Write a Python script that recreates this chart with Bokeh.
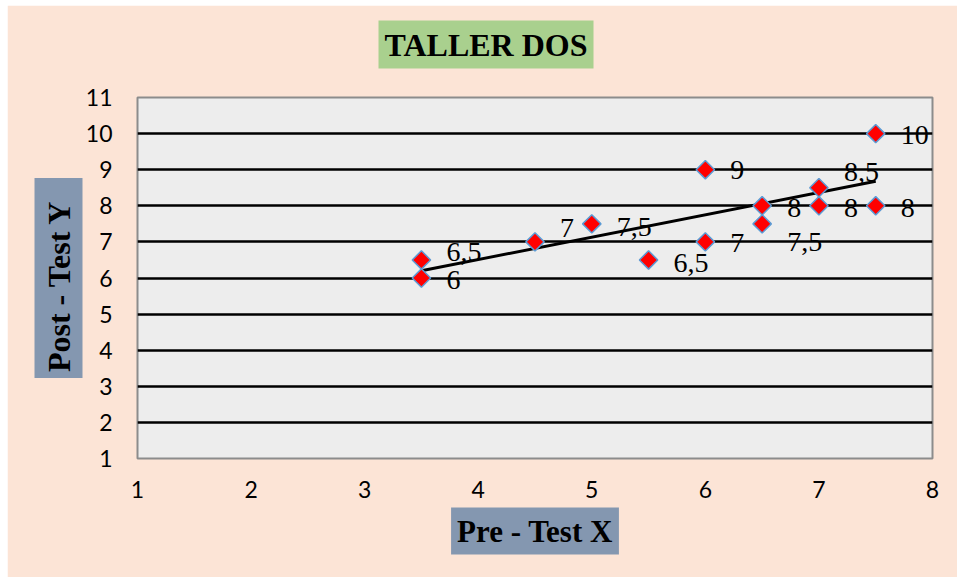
import numpy as np
from bokeh.plotting import figure
from bokeh.models import Title, FixedTicker, Range1d, ColumnDataSource
from bokeh.core.properties import value
from bokeh.embed import file_html
from bokeh.resources import INLINE

# ---- data ----
pre_test = [3.5, 3.5, 4.5, 5.0, 5.5, 6.0, 6.0, 6.5, 6.5, 7.0, 7.0, 7.5, 7.5]
post_test = [6.0, 6.5, 7.0, 7.5, 6.5, 7.0, 9.0, 8.0, 7.5, 8.5, 8.0, 8.0, 10.0]
x_ticks = [1, 2, 3, 4, 5, 6, 7, 8]
y_ticks = [1, 2, 3, 4, 5, 6, 7, 8, 9, 10, 11]
title_text = "TALLER DOS"
x_title = "Pre - Test X"
y_title = "Post - Test   Y"

# label vertical nudges (screen px, style only)
label_dy = [2, -8, -14, 3, 3, 1, 0, 2, 18, -16, 2, 2, 1]

labels = [("%g" % v).replace(".", ",") for v in post_test]

BG = "#FCE4D6"
PLOT_BG = "#EDEDED"

p = figure(width=950, height=572, x_range=Range1d(1, 8), y_range=Range1d(1, 11),
           output_backend="svg", toolbar_location=None,
           min_border_left=130, min_border_right=25, min_border_top=92, min_border_bottom=119,
           background_fill_color=PLOT_BG, border_fill_color=BG)
p.margin = (5, 0, 0, 7)

p.outline_line_color = "#8c8c8c"
p.outline_line_width = 2

p.xgrid.visible = False
p.ygrid.ticker = FixedTicker(ticks=[t for t in y_ticks if t > y_ticks[0]])
p.ygrid.grid_line_color = "black"
p.ygrid.grid_line_width = 2.5

for ax, ticks in ((p.xaxis, x_ticks), (p.yaxis, y_ticks)):
    ax.ticker = FixedTicker(ticks=ticks)
    ax.axis_line_color = None
    ax.major_tick_line_color = None
    ax.minor_tick_line_color = None
    ax.major_tick_out = 0
    ax.major_tick_in = 0
    ax.major_label_text_font = "Lato"
    ax.major_label_text_font_size = "23px"
    ax.major_label_text_color = "black"
p.xaxis.major_label_standoff = 22
p.yaxis.major_label_standoff = 25

# trend line (least squares from data)
slope, intercept = np.polyfit(pre_test, post_test, 1)
xl = np.array([min(pre_test), max(pre_test)])
p.line(xl, slope * xl + intercept, line_color="black", line_width=3)

src = ColumnDataSource(dict(x=pre_test, y=post_test, lab=labels, dy=label_dy))
p.scatter("x", "y", source=src, marker="square", angle=np.pi / 4, size=13,
          fill_color="red", line_color="#5B9BD5", line_width=1.5)
p.text("x", "y", text="lab", source=src, x_offset=25, y_offset="dy",
       text_font=value("Liberation Serif"), text_font_size="28px",
       text_baseline="middle", text_align="left", text_color="black")

# spacer between frame and title, then the boxed title
p.add_layout(Title(text=" ", text_font_size="1px", standoff=25), "above")
p.add_layout(Title(text=title_text, align="left", offset=241, standoff=2,
                   text_font="Liberation Serif", text_font_style="bold", text_font_size="32px",
                   text_color="black",
                   background_fill_color="#A9D08E", padding=6), "above")
p.add_layout(Title(text=x_title, align="center", standoff=10,
                   text_font="Liberation Serif", text_font_style="bold", text_font_size="31px",
                   text_color="black",
                   background_fill_color="#8497B0", padding=6), "below")
p.add_layout(Title(text=y_title, align="center", standoff=0,
                   text_font="Liberation Serif", text_font_style="bold", text_font_size="32px",
                   text_color="black",
                   background_fill_color="#8497B0", padding=6), "left")

open("out.html", "w").write(file_html(p, INLINE))
